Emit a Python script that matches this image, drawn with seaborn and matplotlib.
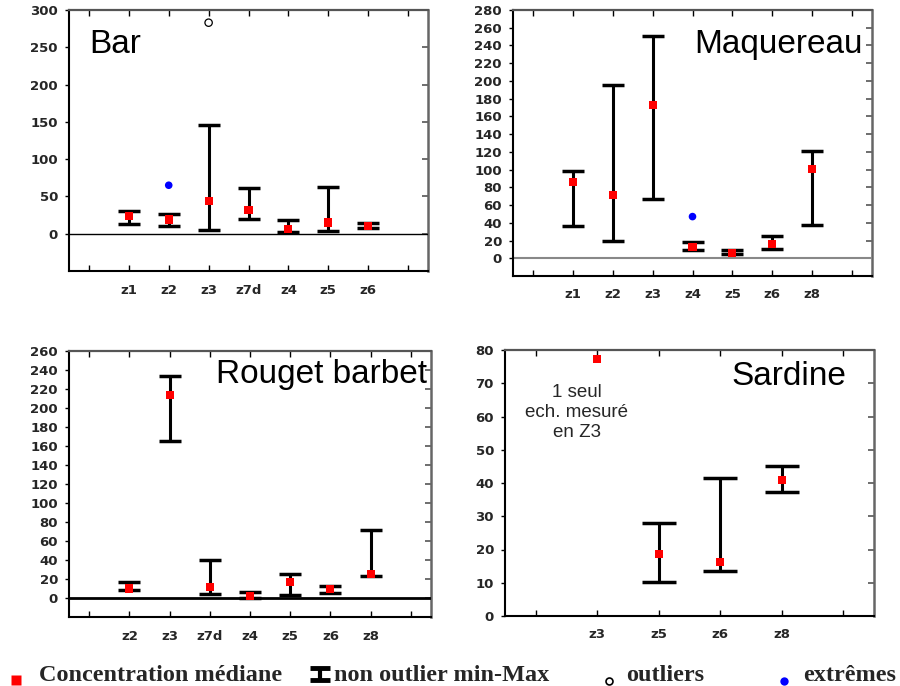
import numpy as np
import pandas as pd
import matplotlib
matplotlib.use("Agg")
import matplotlib.pyplot as plt
import seaborn as sns

# ---------------- data ----------------
bar_cats = ["z1", "z2", "z3", "z7d", "z4", "z5", "z6"]
bar_med = [24, 19, 44, 32, 6, 15, 10]
bar_min = [13, 10, 5, 20, 2, 4, 7]
bar_max = [31, 27, 146, 61, 18, 62, 14]
bar_ext_cats = ["z2"]
bar_ext_vals = [65]
bar_out_cats = ["z3"]
bar_out_vals = [283]

maq_cats = ["z1", "z2", "z3", "z4", "z5", "z6", "z8"]
maq_med = [86, 71, 173, 13, 6, 16, 101]
maq_min = [36, 19, 67, 9, 4.5, 10, 38]
maq_max = [98, 195, 251, 18, 9, 25, 121]
maq_ext_cats = ["z4"]
maq_ext_vals = [47]

rb_cats = ["z2", "z3", "z7d", "z4", "z5", "z6", "z8"]
rb_med = [10, 214, 12, 2, 17, 9, 25]
rb_min = [8, 165, 4, 0.5, 3, 5, 23]
rb_max = [17, 234, 40, 6, 25, 13, 72]

sar_cats = ["z3", "z5", "z6", "z8"]
sar_med = [77.3, 18.7, 16.3, 40.9]
sar_min = [np.nan, 10.2, 13.4, 37.3]
sar_max = [np.nan, 28, 41.6, 45.1]

# ---------------- style ----------------
sns.set_style("white")
plt.rcParams["font.family"] = ["DejaVu Sans"]

W, H = 900, 686
fig = plt.figure(figsize=(W / 100, H / 100), dpi=100)


def px_axes(left, top, right, bottom):
    return fig.add_axes([left / W, 1 - bottom / H, (right - left) / W, (bottom - top) / H])


def panel(ax, cats, med, lo, hi, ylim, ystep, capsize,
          ext_cats=(), ext_vals=(), out_cats=(), out_vals=(),
          zero=None):
    n = len(cats)
    pos = {c: i + 1 for i, c in enumerate(cats)}
    df = pd.DataFrame(dict(cat=cats, med=med, lo=lo, hi=hi))
    df["x"] = df["cat"].map(pos)
    if zero is not None:
        ax.axhline(0, color=zero[0], lw=zero[1], zorder=1)
    d = df.dropna()
    ax.errorbar(d["x"], d["med"], yerr=[d["med"] - d["lo"], d["hi"] - d["med"]],
                fmt="none", ecolor="black", elinewidth=2.2, capsize=capsize,
                capthick=2.5, zorder=3)
    sns.scatterplot(data=df, x="x", y="med", marker="s", color="red", s=34,
                    edgecolor="none", ax=ax, zorder=4, legend=False)
    if len(ext_cats):
        de = pd.DataFrame(dict(x=[pos[c] for c in ext_cats], y=ext_vals))
        sns.scatterplot(data=de, x="x", y="y", marker="o", color="blue", s=30,
                        edgecolor="none", ax=ax, zorder=4, legend=False)
    if len(out_cats):
        do = pd.DataFrame(dict(x=[pos[c] for c in out_cats], y=out_vals))
        sns.scatterplot(data=do, x="x", y="y", marker="o", facecolor="none",
                        edgecolor="black", linewidth=0.9, s=28, ax=ax, zorder=4,
                        legend=False)
    ax.set_xlim(-0.5, n + 1.5)
    ax.set_ylim(*ylim)
    ax.set_xticks(np.arange(0, n + 2))
    ax.set_xticklabels([""] + list(cats) + [""])
    yt = np.arange(max(ylim[0], 0), ylim[1] + 0.01, ystep)
    ax.set_yticks(yt)
    ax.set_yticklabels([f"{v:g}" for v in yt])
    ax.set_xlabel("")
    ax.set_ylabel("")
    ax.tick_params(axis="x", direction="in", top=True, bottom=True, length=4,
                   width=1, pad=9, labelsize=9.5, color="black")
    ax.tick_params(axis="y", direction="out", left=True, right=False, length=3,
                   width=1, pad=5, labelsize=9.5, color="black")
    for lab in ax.get_xticklabels() + ax.get_yticklabels():
        lab.set_fontweight("bold")
    sec = ax.secondary_yaxis("right")
    sec.set_yticks(yt)
    sec.set_yticklabels([])
    sec.tick_params(direction="in", length=4, width=1.2, color="#555555")
    sec.spines["right"].set_color("#666666")
    sec.spines["right"].set_linewidth(1.8)
    for s in ["left", "bottom"]:
        ax.spines[s].set_color("black")
        ax.spines[s].set_linewidth(1.5)
    ax.spines["top"].set_color("#555555")
    ax.spines["top"].set_linewidth(1.6)
    ax.spines["right"].set_visible(False)


title_kw = dict(family=["Liberation Sans", "DejaVu Sans"], fontsize=24,
                va="baseline", color="black")

# Bar
ax1 = px_axes(69, 10, 428, 271)
panel(ax1, bar_cats, bar_med, bar_min, bar_max, (-50, 300), 50, 8,
      bar_ext_cats, bar_ext_vals, bar_out_cats, bar_out_vals,
      zero=("black", 1.0))
ax1.text(0.056, 0.835, "Bar", transform=ax1.transAxes, ha="left", **title_kw)

# Maquereau
ax2 = px_axes(513, 10, 872, 276)
panel(ax2, maq_cats, maq_med, maq_min, maq_max, (-20, 280), 20, 8,
      maq_ext_cats, maq_ext_vals, zero=("#888888", 1.5))
ax2.text(0.975, 0.838, "Maquereau", transform=ax2.transAxes, ha="right", **title_kw)

# Rouget barbet
ax3 = px_axes(69, 351, 431, 617)
panel(ax3, rb_cats, rb_med, rb_min, rb_max, (-20, 260), 20, 8,
      zero=("black", 2.0))
ax3.text(0.989, 0.880, "Rouget barbet", transform=ax3.transAxes, ha="right", **title_kw)

# Sardine
ax4 = px_axes(505, 350, 874, 616)
panel(ax4, sar_cats, sar_med, sar_min, sar_max, (0, 80), 10, 12)
ax4.text(0.926, 0.868, "Sardine", transform=ax4.transAxes, ha="right", **title_kw)
ax4.text(0.67, 61.2, "1 seul\nech. mesuré\nen Z3", ha="center", va="center",
         multialignment="center", fontsize=13.5, linespacing=1.2,
         family=["Liberation Sans", "DejaVu Sans"])

# ---------------- legend (pixel-space overlay) ----------------
lg = fig.add_axes([0, 0, 1, 1], zorder=-1)
lg.set_xlim(0, W)
lg.set_ylim(H, 0)
lg.axis("off")
leg_kw = dict(family=["Liberation Serif", "DejaVu Serif"], fontsize=17.5,
              fontweight="bold", va="baseline", ha="left")
lg.plot([16], [680], marker="s", ms=7.5, color="red", mec="none", ls="none")
lg.text(39, 681, "Concentration médiane", **leg_kw)
lg.errorbar([320], [674], yerr=[6], fmt="none", ecolor="black", elinewidth=3,
            capsize=7.5, capthick=3.5)
lg.text(334, 681, "non outlier min-Max", **leg_kw)
lg.plot([609], [681], marker="o", ms=5, mfc="none", mec="black", mew=1.2, ls="none")
lg.text(626, 681, "outliers", **leg_kw)
lg.plot([784], [681], marker="o", ms=6, color="blue", mec="none", ls="none")
lg.text(803, 681, "extrêmes", **leg_kw)

fig.savefig("out.png", dpi=100)
